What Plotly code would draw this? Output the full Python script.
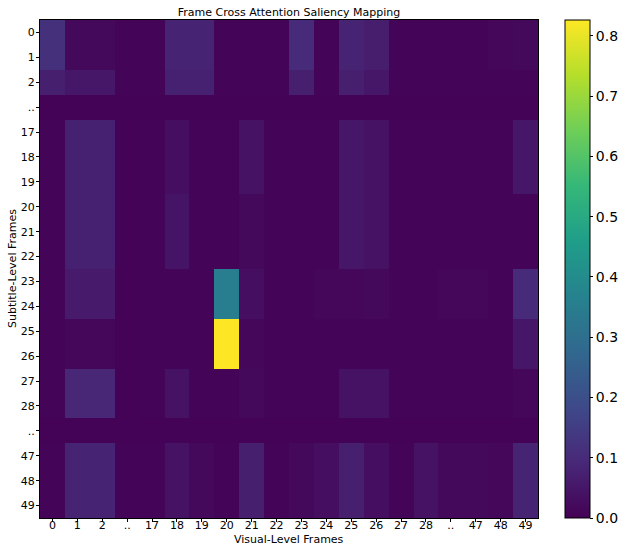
import plotly.graph_objects as go

visual_labels = ["0", "1", "2", "..", "17", "18", "19", "20", "21", "22",
                 "23", "24", "25", "26", "27", "28", "..", "47", "48", "49"]
subtitle_labels = ["0", "1", "2", "..", "17", "18", "19", "20", "21", "22",
                   "23", "24", "25", "26", "27", "28", "..", "47", "48", "49"]

# saliency values, one list per subtitle-level frame (columns follow visual_labels)
row_0 = [0.115, 0.02, 0.02, 0.01, 0.01, 0.08, 0.08, 0.01, 0.01, 0.01, 0.10, 0.01, 0.08, 0.065, 0.01, 0.01, 0.01, 0.01, 0.015, 0.02]
row_1 = [0.115, 0.02, 0.02, 0.01, 0.01, 0.08, 0.08, 0.01, 0.01, 0.01, 0.10, 0.01, 0.08, 0.065, 0.01, 0.01, 0.01, 0.01, 0.015, 0.02]
row_2 = [0.07, 0.05, 0.05, 0.01, 0.01, 0.075, 0.075, 0.01, 0.01, 0.01, 0.07, 0.01, 0.07, 0.05, 0.01, 0.01, 0.01, 0.01, 0.01, 0.01]
row_dots_a = [0.005, 0.005, 0.005, 0.005, 0.005, 0.005, 0.005, 0.005, 0.005, 0.005, 0.005, 0.005, 0.005, 0.005, 0.005, 0.005, 0.005, 0.005, 0.005, 0.005]
row_17 = [0.01, 0.075, 0.075, 0.005, 0.01, 0.03, 0.01, 0.01, 0.04, 0.01, 0.01, 0.01, 0.05, 0.04, 0.01, 0.01, 0.01, 0.01, 0.01, 0.05]
row_18 = [0.01, 0.075, 0.075, 0.005, 0.01, 0.03, 0.01, 0.01, 0.04, 0.01, 0.01, 0.01, 0.05, 0.04, 0.01, 0.01, 0.01, 0.01, 0.01, 0.05]
row_19 = [0.01, 0.075, 0.075, 0.005, 0.01, 0.03, 0.01, 0.01, 0.04, 0.01, 0.01, 0.01, 0.05, 0.04, 0.01, 0.01, 0.01, 0.01, 0.01, 0.05]
row_20 = [0.01, 0.075, 0.075, 0.005, 0.01, 0.045, 0.01, 0.01, 0.02, 0.01, 0.01, 0.01, 0.05, 0.04, 0.01, 0.01, 0.01, 0.01, 0.01, 0.01]
row_21 = [0.01, 0.075, 0.075, 0.005, 0.01, 0.045, 0.01, 0.01, 0.02, 0.01, 0.01, 0.01, 0.05, 0.04, 0.01, 0.01, 0.01, 0.01, 0.01, 0.01]
row_22 = [0.01, 0.075, 0.075, 0.005, 0.01, 0.045, 0.01, 0.01, 0.02, 0.01, 0.01, 0.01, 0.05, 0.04, 0.01, 0.01, 0.01, 0.01, 0.01, 0.01]
row_23 = [0.01, 0.06, 0.06, 0.005, 0.01, 0.01, 0.01, 0.35, 0.03, 0.01, 0.01, 0.015, 0.015, 0.02, 0.01, 0.01, 0.015, 0.015, 0.01, 0.10]
row_24 = [0.01, 0.06, 0.06, 0.005, 0.01, 0.01, 0.01, 0.35, 0.03, 0.01, 0.01, 0.015, 0.015, 0.02, 0.01, 0.01, 0.015, 0.015, 0.01, 0.10]
row_25 = [0.01, 0.015, 0.015, 0.005, 0.01, 0.01, 0.01, 0.8265, 0.015, 0.01, 0.01, 0.01, 0.01, 0.01, 0.01, 0.01, 0.01, 0.01, 0.01, 0.05]
row_26 = [0.01, 0.015, 0.015, 0.005, 0.01, 0.01, 0.01, 0.8265, 0.015, 0.01, 0.01, 0.01, 0.01, 0.01, 0.01, 0.01, 0.01, 0.01, 0.01, 0.05]
row_27 = [0.01, 0.09, 0.09, 0.005, 0.01, 0.04, 0.01, 0.01, 0.02, 0.01, 0.01, 0.01, 0.04, 0.04, 0.01, 0.01, 0.01, 0.01, 0.01, 0.015]
row_28 = [0.01, 0.09, 0.09, 0.005, 0.01, 0.04, 0.01, 0.01, 0.02, 0.01, 0.01, 0.01, 0.04, 0.04, 0.01, 0.01, 0.01, 0.01, 0.01, 0.015]
row_dots_b = [0.005, 0.005, 0.005, 0.005, 0.005, 0.005, 0.005, 0.005, 0.005, 0.005, 0.005, 0.005, 0.005, 0.005, 0.005, 0.005, 0.005, 0.005, 0.005, 0.005]
row_47 = [0.01, 0.08, 0.08, 0.01, 0.01, 0.04, 0.02, 0.01, 0.07, 0.01, 0.02, 0.03, 0.07, 0.03, 0.01, 0.04, 0.02, 0.02, 0.015, 0.08]
row_48 = [0.01, 0.08, 0.08, 0.01, 0.01, 0.04, 0.02, 0.01, 0.07, 0.01, 0.02, 0.03, 0.07, 0.03, 0.01, 0.04, 0.02, 0.02, 0.015, 0.08]
row_49 = [0.01, 0.08, 0.08, 0.01, 0.01, 0.04, 0.02, 0.01, 0.07, 0.01, 0.02, 0.03, 0.07, 0.03, 0.01, 0.04, 0.02, 0.02, 0.015, 0.08]

z = [row_0, row_1, row_2, row_dots_a, row_17, row_18, row_19, row_20, row_21, row_22,
     row_23, row_24, row_25, row_26, row_27, row_28, row_dots_b, row_47, row_48, row_49]

cb_ticks = [0.0, 0.1, 0.2, 0.3, 0.4, 0.5, 0.6, 0.7, 0.8]

xs = list(range(len(visual_labels)))
ys = list(range(len(subtitle_labels)))

fig = go.Figure(go.Heatmap(
    z=z, x=xs, y=ys,
    colorscale="Viridis", zmin=0.0, zmax=0.8265,
    colorbar=dict(
        x=(565 - 40) / 498, xanchor="left", y=0.5, yanchor="middle",
        len=1.0, lenmode="fraction", thickness=25, thicknessmode="pixels",
        outlinecolor="black", outlinewidth=1,
        tickvals=cb_ticks, ticktext=[f"{t:.1f}" for t in cb_ticks],
        ticks="outside", ticklen=3, tickcolor="black",
        tickfont=dict(family="DejaVu Sans", size=14, color="black"),
        xpad=0, ypad=0,
    ),
))

axis_common = dict(
    showline=True, linecolor="black", linewidth=1, mirror=True,
    ticks="outside", ticklen=3, tickcolor="black", showgrid=False, zeroline=False,
    tickfont=dict(family="DejaVu Sans", size=11, color="black"),
    automargin=False,
)

fig.update_xaxes(
    tickmode="array", tickvals=xs, ticktext=visual_labels,
    range=[-0.5, len(xs) - 0.5], ticklabelstandoff=-6,
    **axis_common,
)
fig.update_yaxes(
    tickmode="array", tickvals=ys, ticktext=subtitle_labels,
    range=[len(ys) - 0.5, -0.5], ticklabelstandoff=-1,
    **axis_common,
)

label_font = dict(family="DejaVu Sans", size=11, color="black")
fig.add_annotation(text="Visual-Level Frames", xref="paper", yref="paper",
                   x=0.5, y=-(539 - 518) / 498, xanchor="center", yanchor="middle",
                   showarrow=False, font=label_font)
fig.add_annotation(text="Subtitle-Level Frames", xref="paper", yref="paper",
                   x=-(40 - 12) / 498, y=0.5, xanchor="center", yanchor="middle",
                   textangle=-90, showarrow=False, font=label_font)

fig.update_layout(
    width=619, height=548,
    margin=dict(l=40, r=81, t=20, b=30, autoexpand=False),
    paper_bgcolor="white", plot_bgcolor="white",
    title=dict(text="Frame Cross Attention Saliency Mapping",
               x=289 / 619, xanchor="center", y=1 - 12 / 548, yanchor="middle",
               font=dict(family="DejaVu Sans", size=11, color="black")),
    font=dict(family="DejaVu Sans"),
)

fig.write_html("out.html")
